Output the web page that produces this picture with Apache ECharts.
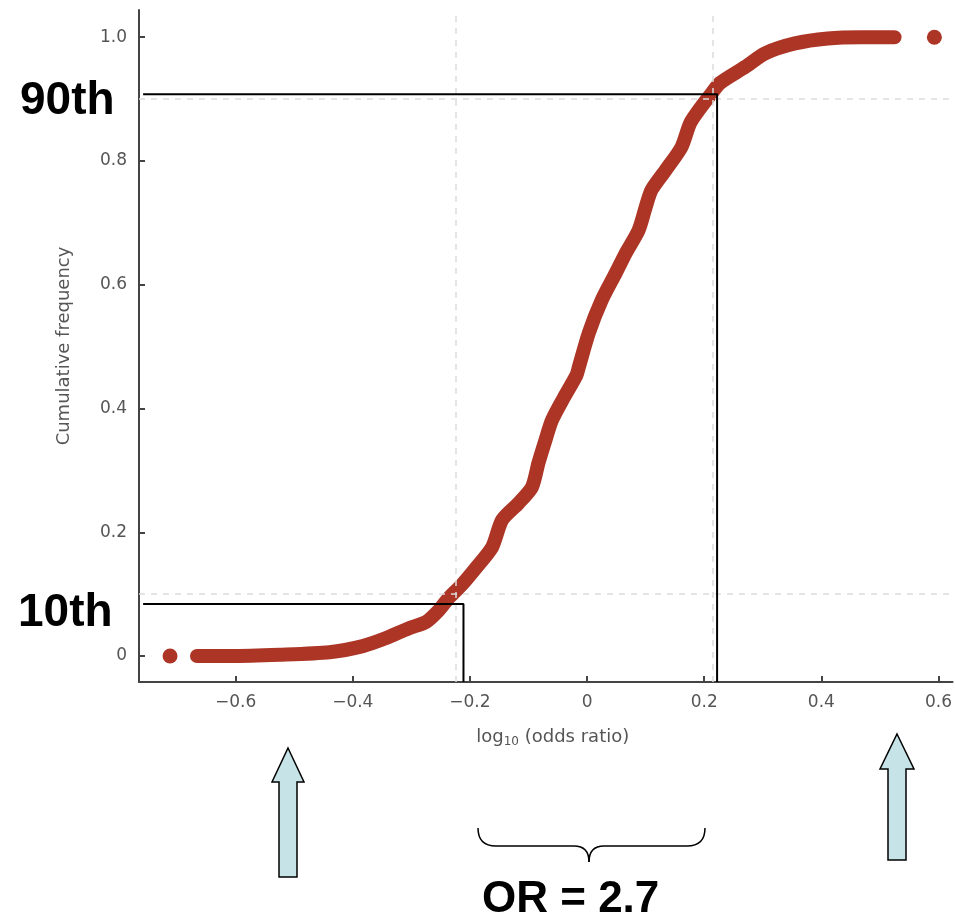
<!DOCTYPE html>
<html>
<head>
<meta charset="utf-8">
<script src="https://cdn.jsdelivr.net/npm/echarts@6/dist/echarts.min.js"></script>
<style>
  html, body { margin: 0; padding: 0; background: #fff; }
  #chart { width: 955px; height: 920px; }
</style>
</head>
<body>
<div id="chart"></div>
<script>
// cumulative frequency curve (log10 odds ratio, cum. freq)
const curveX = [-0.666, -0.61, -0.525, -0.44, -0.383, -0.343, -0.304, -0.275, -0.253, -0.236,
  -0.214, -0.19, -0.162, -0.145, -0.117, -0.094, -0.083, -0.071, -0.06, -0.04,
  -0.018, -0.014, 0.003, 0.025, 0.049, 0.066, 0.088, 0.1, 0.11, 0.134,
  0.161, 0.176, 0.193, 0.21, 0.227, 0.27, 0.304, 0.355, 0.411, 0.467, 0.525];
const curveY = [0, 0, 0.002, 0.006, 0.016, 0.029, 0.045, 0.055, 0.074, 0.094,
  0.115, 0.142, 0.176, 0.22, 0.247, 0.273, 0.312, 0.349, 0.381, 0.417,
  0.454, 0.467, 0.522, 0.575, 0.619, 0.651, 0.688, 0.725, 0.753, 0.785,
  0.822, 0.861, 0.885, 0.906, 0.926, 0.952, 0.974, 0.99, 0.998, 1.0, 1.0];
const outlierX = [-0.712, 0.593];
const outlierY = [0, 1.0];

// percentile markers and the faint reference lines
const p10 = [-0.211, 0.084];
const p90 = [0.222, 0.908];
const refX = [-0.225, 0.215];
const refY = [0.1, 0.9];

const xTicks = [-0.6, -0.4, -0.2, 0, 0.2, 0.4, 0.6];
const yTicks = [0, 0.2, 0.4, 0.6, 0.8, 1.0];

const xMin = -0.765, xMax = 0.624;
const yMin = -0.042, yMax = 1.044;
const lineStartX = -0.758;

const red = '#ac3526';
const axisGrey = '#444';
const textGrey = '#555';

const chart = echarts.init(document.getElementById('chart'));

const fmtX = v => (v === 0 ? '0' : v.toFixed(1).replace('-', '\u2212'));
const fmtY = v => (v === 0 ? '0' : v.toFixed(1));

const percentileLine = p => [[lineStartX, p[1]], [p[0], p[1]], [p[0], yMin]];

const refLines = [
  ...refY.map(v => [{ coord: [xMin, v] }, { coord: [xMax, v] }]),
  ...refX.map(v => [{ coord: [v, yMin] }, { coord: [v, yMax] }])
];

const arrowFill = '#c6e3e7';
const braceStyle = { stroke: '#000', lineWidth: 1.5, fill: null };
const curve = (x1, y1, cpx1, cpy1, cpx2, cpy2, x2, y2) => ({
  type: 'bezierCurve', shape: { x1, y1, cpx1, cpy1, cpx2, cpy2, x2, y2 }, style: braceStyle
});
const seg = (x1, y1, x2, y2) => ({ type: 'line', shape: { x1, y1, x2, y2 }, style: braceStyle });

const option = {
  animation: false,
  backgroundColor: '#fff',
  grid: { left: 139, right: 0, top: 10, bottom: 238 },
  xAxis: {
    type: 'value',
    min: xMin,
    max: xMax,
    name: 'log{sub|10} (odds ratio)',
    nameLocation: 'middle',
    nameGap: 44,
    nameTextStyle: {
      color: textGrey, fontSize: 18, fontFamily: 'DejaVu Sans', padding: [0, 0, 0, 14],
      rich: { sub: { fontSize: 12, color: textGrey, fontFamily: 'DejaVu Sans', verticalAlign: 'bottom', padding: [10, 0, 0, 0] } }
    },
    axisLine: { onZero: false, lineStyle: { color: axisGrey, width: 2 } },
    axisTick: { inside: true, length: 6, lineStyle: { color: axisGrey, width: 2 }, customValues: xTicks },
    axisLabel: { customValues: xTicks, formatter: fmtX, color: textGrey, fontSize: 17, fontFamily: 'DejaVu Sans', margin: 12 },
    splitLine: { show: false }
  },
  yAxis: {
    type: 'value',
    min: yMin,
    max: yMax,
    name: 'Cumulative frequency',
    nameLocation: 'middle',
    nameGap: 66,
    nameTextStyle: { color: textGrey, fontSize: 18, fontFamily: 'DejaVu Sans' },
    axisLine: { show: true, onZero: false, lineStyle: { color: axisGrey, width: 2 } },
    axisTick: { show: true, inside: true, length: 6, lineStyle: { color: axisGrey, width: 2 }, customValues: yTicks },
    axisLabel: { customValues: yTicks, formatter: fmtY, color: textGrey, fontSize: 17, fontFamily: 'DejaVu Sans', margin: 12 },
    splitLine: { show: false }
  },
  series: [
    {
      name: 'guides',
      type: 'line',
      data: [],
      markLine: {
        silent: true,
        symbol: 'none',
        label: { show: false },
        lineStyle: { color: '#dcdcdc', type: [6, 6], width: 1.5 },
        data: refLines
      }
    },
    {
      name: 'cdf',
      type: 'line',
      data: curveX.map((x, i) => [x, curveY[i]]),
      showSymbol: false,
      smooth: 0.25,
      lineStyle: { color: red, width: 14, cap: 'round', join: 'round' },
      z: 3
    },
    {
      name: 'outliers',
      type: 'scatter',
      data: outlierX.map((x, i) => [x, outlierY[i]]),
      symbolSize: 15,
      itemStyle: { color: red, opacity: 1 },
      z: 3
    },
    {
      name: 'p90',
      type: 'line',
      data: percentileLine(p90),
      showSymbol: false,
      lineStyle: { color: '#000', width: 2 },
      z: 5
    },
    {
      name: 'p10',
      type: 'line',
      data: percentileLine(p10),
      showSymbol: false,
      lineStyle: { color: '#000', width: 2 },
      z: 5
    }
  ],
  graphic: [
    { type: 'text', left: 20, top: 78, style: { text: '90th', fontSize: 46, fontWeight: 'bold', fontFamily: 'Liberation Sans, Arial', fill: '#000' } },
    { type: 'text', left: 18, top: 590, style: { text: '10th', fontSize: 46, fontWeight: 'bold', fontFamily: 'Liberation Sans, Arial', fill: '#000' } },
    { type: 'text', left: 482, top: 878, style: { text: 'OR = 2.7', fontSize: 44, fontWeight: 'bold', fontFamily: 'Liberation Sans, Arial', fill: '#000' } },
    {
      type: 'polygon',
      shape: { points: [[288, 748], [304, 782], [297, 782], [297, 877], [279, 877], [279, 782], [272, 782]] },
      style: { fill: arrowFill, stroke: '#000', lineWidth: 1.5 }
    },
    {
      type: 'polygon',
      shape: { points: [[897, 734], [914, 769], [906, 769], [906, 860], [888, 860], [888, 769], [880, 769]] },
      style: { fill: arrowFill, stroke: '#000', lineWidth: 1.5 }
    },
    curve(478, 828, 478, 840, 484, 846, 496, 846),
    seg(496, 846, 574, 846),
    curve(574, 846, 584, 846, 589, 852, 589, 862),
    curve(589, 862, 589, 852, 594, 846, 604, 846),
    seg(604, 846, 687, 846),
    curve(687, 846, 699, 846, 705, 840, 705, 828)
  ]
};

chart.setOption(option);
</script>
</body>
</html>
